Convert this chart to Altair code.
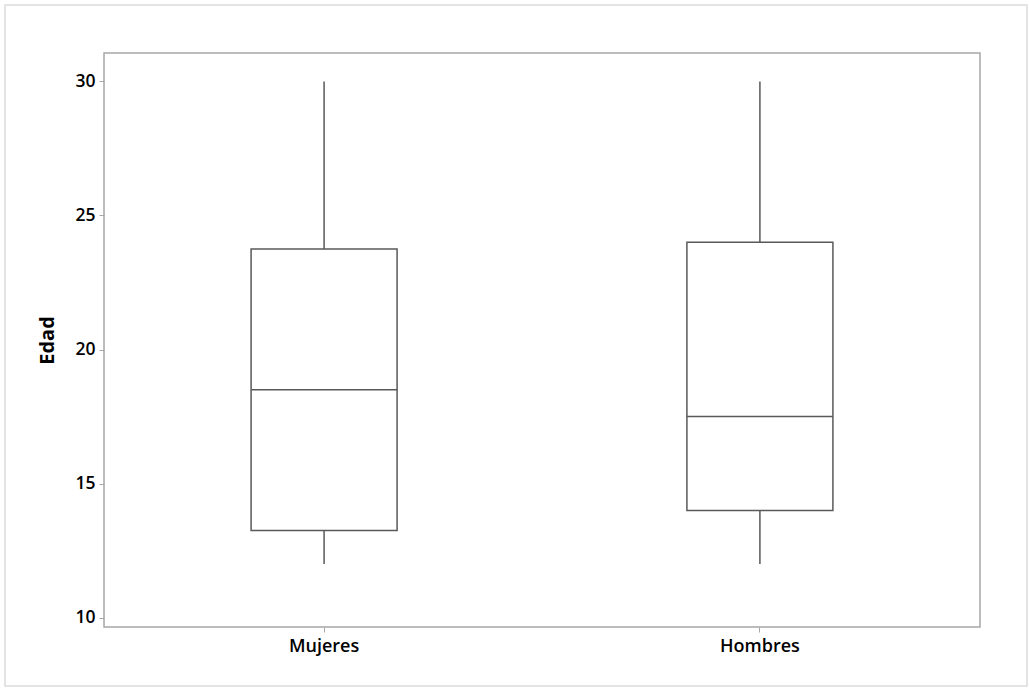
import altair as alt
import pandas as pd

# Five-number summary of age per group
categories = ["Mujeres", "Hombres"]
minimum = [12, 12]
q1 = [13.25, 14]
median = [18.5, 17.5]
q3 = [23.75, 24]
maximum = [30, 30]

df = pd.DataFrame({
    "grupo": categories,
    "min": minimum,
    "q1": q1,
    "mediana": median,
    "q3": q3,
    "max": maximum,
})

FONT = "Open Sans"
LINE = "#595959"
AXIS_GREY = "#a6a6a6"

x_enc = alt.X(
    "grupo:N",
    sort=categories,
    scale=alt.Scale(paddingInner=0, paddingOuter=0.005),
    axis=alt.Axis(
        title=None, labelAngle=0, domain=False, tickColor=AXIS_GREY,
        tickSize=5, labelPadding=5, labelFont=FONT, labelFontSize=18,
        labelFontWeight=600, labelColor="black",
    ),
)
y_scale = alt.Scale(domain=[9.65, 31.06], nice=False, zero=False)
y_axis = alt.Axis(
    values=[10, 15, 20, 25, 30], grid=False, domain=False,
    tickColor=AXIS_GREY, tickSize=5, labelPadding=4, labelFont=FONT,
    labelFontSize=17.5, labelFontWeight=600, labelColor="black",
    title="Edad", titleFont=FONT, titleFontSize=20, titleFontWeight="bold",
    titleColor="black", titlePadding=17,
)

base = alt.Chart(df).encode(x=x_enc)

lower = base.mark_rule(color=LINE, strokeWidth=1.5).encode(
    y=alt.Y("min:Q", scale=y_scale, axis=y_axis), y2="q1:Q"
)
upper = base.mark_rule(color=LINE, strokeWidth=1.5).encode(
    y=alt.Y("q3:Q", scale=y_scale), y2="max:Q"
)
box = base.mark_bar(size=146, fill="white", stroke=LINE, strokeWidth=1.5).encode(
    y=alt.Y("q1:Q", scale=y_scale), y2="q3:Q"
)
mid = base.mark_tick(size=146, thickness=1.5, color=LINE, opacity=1).encode(
    y=alt.Y("mediana:Q", scale=y_scale)
)

# light outer frame around the whole figure
frame = alt.Chart(pd.DataFrame({"k": [0]})).mark_rect(
    fill=None, stroke="#dcdcdc", strokeWidth=1.5
).encode(
    x=alt.value(-99), x2=alt.value(923), y=alt.value(-48), y2=alt.value(633)
)

chart = alt.layer(frame, lower, upper, box, mid).properties(
    width=876,
    height=574,
    autosize=alt.AutoSizeParams(type="none"),
    padding={"left": 104, "top": 53, "right": 49, "bottom": 61},
    background="white",
).configure_view(stroke=AXIS_GREY, strokeWidth=1.5)

chart.save("out.html", embed_options={"renderer": "svg", "actions": False})
